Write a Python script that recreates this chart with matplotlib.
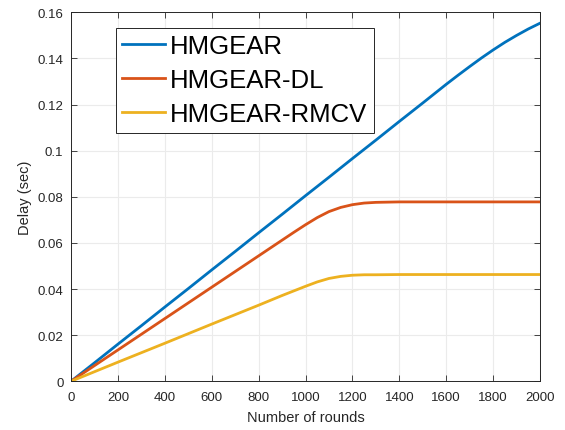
import matplotlib
matplotlib.use("Agg")
import matplotlib.pyplot as plt

plt.rcParams['font.family'] = ['Liberation Sans', 'DejaVu Sans']

# Data
x_blue = [0, 100, 200, 300, 400, 500, 600, 700, 800, 900, 1000, 1100, 1200, 1300,
          1400, 1500, 1600, 1650, 1700, 1750, 1800, 1850, 1900, 1950, 2000]
y_blue = [0, 0.008, 0.0161, 0.0241, 0.0322, 0.0402, 0.0483, 0.0563, 0.0644, 0.0724,
          0.0805, 0.0885, 0.0966, 0.1046, 0.1127, 0.1207, 0.1288, 0.1327, 0.1365,
          0.1402, 0.1437, 0.1470, 0.1500, 0.1528, 0.1553]

x_dl = [0, 200, 400, 600, 800, 900, 950, 1000, 1050, 1100, 1150, 1200, 1250, 1300,
        1350, 1400, 1600, 1800, 2000]
y_dl = [0, 0.0136, 0.0272, 0.0408, 0.0544, 0.0612, 0.0646, 0.0679, 0.0710, 0.0736,
        0.0754, 0.0766, 0.0773, 0.0776, 0.0777, 0.0778, 0.0778, 0.0778, 0.0778]

x_rmcv = [0, 200, 400, 600, 800, 900, 950, 1000, 1050, 1100, 1150, 1200, 1250, 1300,
          1400, 1600, 1800, 2000]
y_rmcv = [0, 0.0083, 0.0165, 0.0248, 0.033, 0.0372, 0.0392, 0.0412, 0.0431, 0.0446,
          0.0455, 0.0460, 0.0462, 0.0462, 0.0463, 0.0463, 0.0463, 0.0463]

labels = ['HMGEAR', 'HMGEAR-DL', 'HMGEAR-RMCV']
colors = ['#0072BD', '#D95319', '#EDB120']
xticks = list(range(0, 2001, 200))
yticks = [0, 0.02, 0.04, 0.06, 0.08, 0.1, 0.12, 0.14, 0.16]
ytick_labels = ['0', '0.02', '0.04', '0.06', '0.08', '0.1', '0.12', '0.14', '0.16']

fig = plt.figure(figsize=(5.65, 4.31), dpi=100)
ax = fig.add_axes([0.1257, 0.113, 0.8301, 0.856])

for xs, ys, lab, c in zip([x_blue, x_dl, x_rmcv], [y_blue, y_dl, y_rmcv], labels, colors):
    ax.plot(xs, ys, color=c, lw=2, label=lab, solid_joinstyle='round')

ax.set_xlim(0, 2000)
ax.set_ylim(0, 0.16)
ax.set_xticks(xticks)
ax.set_yticks(yticks)
ax.set_yticklabels(ytick_labels)
ax.grid(True, color='#EBEBEB', lw=0.8)
ax.set_axisbelow(True)
ax.tick_params(direction='in', top=True, right=True, labelsize=9.5,
               colors='#262626', length=4, width=0.6)
ax.tick_params(axis='x', pad=7)
ax.tick_params(axis='y', pad=5.5)
for s in ax.spines.values():
    s.set_color('#262626')
    s.set_linewidth(0.7)

ax.set_xlabel('Number of rounds', fontsize=10.5, color='#262626', labelpad=5)
ax.set_ylabel('Delay (sec)', fontsize=10.5, color='#262626', labelpad=4)

leg = ax.legend(loc='upper left', bbox_to_anchor=(0.096, 0.958), borderaxespad=0,
                fontsize=18.5, frameon=True, fancybox=False, handlelength=1.65,
                handletextpad=0.2, labelspacing=0.39, borderpad=0.25)
leg.get_frame().set_edgecolor('#262626')
leg.get_frame().set_linewidth(0.7)
leg.get_frame().set_alpha(1)

fig.savefig('out.png', dpi=100)
